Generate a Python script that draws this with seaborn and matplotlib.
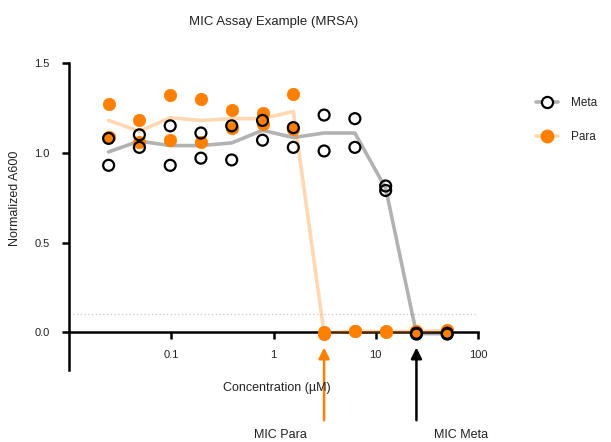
import matplotlib
matplotlib.use("Agg")
import matplotlib.pyplot as plt
from matplotlib.lines import Line2D
import seaborn as sns
import pandas as pd

# Two-fold dilution series (µM) and normalized A600 readings, two replicates each
conc = [0.0244, 0.0488, 0.0977, 0.195, 0.39, 0.781, 1.5625, 3.125, 6.25, 12.5, 25, 50]
meta_rep1 = [1.08, 1.10, 1.15, 1.11, 1.15, 1.18, 1.14, 1.21, 1.19, 0.815, -0.01, -0.005]
meta_rep2 = [0.93, 1.03, 0.93, 0.97, 0.96, 1.07, 1.03, 1.01, 1.03, 0.79, -0.005, -0.01]
para_rep1 = [1.27, 1.18, 1.32, 1.30, 1.24, 1.22, 1.33, 0.0, 0.01, 0.005, 0.01, 0.015]
para_rep2 = [1.09, 1.06, 1.07, 1.06, 1.14, 1.16, 1.13, -0.01, 0.005, 0.0, 0.0, 0.005]
mic_para = 3.125
mic_meta = 25
threshold = 0.1
xticks = [0.1, 1, 10, 100]
xticklabels = ["0.1", "1", "10", "100"]
yticks = [0.0, 0.5, 1.0, 1.5]
yticklabels = ["0.0", "0.5", "1.0", "1.5"]

ORANGE = "#ff8000"
BLACK = "#000000"

rows = []
for comp, reps in (("Meta", (meta_rep1, meta_rep2)), ("Para", (para_rep1, para_rep2))):
    for rep in reps:
        for c, v in zip(conc, rep):
            rows.append({"Concentration": c, "A600": v, "Compound": comp})
df = pd.DataFrame(rows)

sns.set_theme(style="ticks")
plt.rcParams["font.family"] = ["Liberation Sans", "DejaVu Sans"]

fig = plt.figure(figsize=(6.11, 4.42), dpi=100)
ax = fig.add_axes([69 / 611, 1 - 370 / 442, (478 - 69) / 611, (370 - 63) / 442])

# Mean curves (semi-transparent so the zero axis shows through)
for comp, col in (("Meta", BLACK), ("Para", ORANGE)):
    sns.lineplot(data=df[df.Compound == comp], x="Concentration", y="A600",
                 estimator="mean", errorbar=None, color=col, alpha=0.3,
                 lw=2.6, ax=ax, zorder=2.6, legend=False)

# Replicate points
sns.scatterplot(data=df[df.Compound == "Para"], x="Concentration", y="A600",
                color=ORANGE, edgecolor=ORANGE, s=80, linewidth=0.5,
                ax=ax, zorder=3, legend=False, clip_on=False)
sns.scatterplot(data=df[df.Compound == "Meta"], x="Concentration", y="A600",
                facecolor="none", edgecolor=BLACK, s=62, linewidth=1.6,
                ax=ax, zorder=4, legend=False, clip_on=False)

ax.axhline(threshold, color="#c8c8c8", ls=(0, (1, 2)), lw=0.9, zorder=1)

ax.set_xscale("log")
ax.set_xlim(0.01, 100)
ax.set_ylim(-0.21, 1.5)
ax.set_xticks(xticks)
ax.set_xticklabels(xticklabels)
ax.minorticks_off()
ax.set_yticks(yticks)
ax.set_yticklabels(yticklabels)

for s in ("top", "right"):
    ax.spines[s].set_visible(False)
ax.spines["bottom"].set_position(("data", 0))
for s in ("left", "bottom"):
    ax.spines[s].set_linewidth(1.8)
    ax.spines[s].set_color("black")
ax.tick_params(axis="both", direction="out", length=5, width=1.8,
               labelsize=8, colors="black", pad=8)
ax.tick_params(axis="y", pad=9)
for t in ax.get_xticklabels() + ax.get_yticklabels():
    t.set_color("#222222")

ax.set_xlabel("")
ax.set_ylabel("Normalized A600", fontsize=9, color="#222222")
ax.yaxis.set_label_coords(-0.118, 0.56)
fig.text(277 / 611, 1 - 388 / 442, "Concentration (µM)", ha="center", va="center",
         fontsize=9, color="#222222")
fig.text(274 / 611, 1 - 22 / 442, "MIC Assay Example (MRSA)", ha="center", va="center",
         fontsize=9.5, color="#222222")

# MIC arrows and labels
for conc_mic, col, label, lx in ((mic_para, ORANGE, "MIC Para", 280),
                                 (mic_meta, BLACK, "MIC Meta", 461)):
    ax.annotate("", xy=(conc_mic, -0.085), xytext=(conc_mic, -0.49),
                arrowprops=dict(arrowstyle="-|>", color=col, lw=1.8,
                                mutation_scale=16, shrinkA=0, shrinkB=0),
                annotation_clip=False)
    fig.text(lx / 611, 1 - 435 / 442, label, ha="center", va="center",
             fontsize=9, color="#222222")

handles = [
    Line2D([], [], color="#b3b3b3", lw=2.6, marker="o", markersize=8,
           markerfacecolor="white", markeredgecolor=BLACK, markeredgewidth=1.6),
    Line2D([], [], color="#ffd9b3", lw=2.6, marker="o", markersize=9,
           markerfacecolor=ORANGE, markeredgecolor=ORANGE),
]
fig.legend(handles, ["Meta", "Para"], loc="upper left",
           bbox_to_anchor=(536 / 611, 1 - 97 / 442), frameon=False,
           fontsize=8.5, labelspacing=1.9, handlelength=1.9,
           handletextpad=1.1, borderpad=0, borderaxespad=0, labelcolor="#222222")

fig.savefig("out.png", dpi=100)
